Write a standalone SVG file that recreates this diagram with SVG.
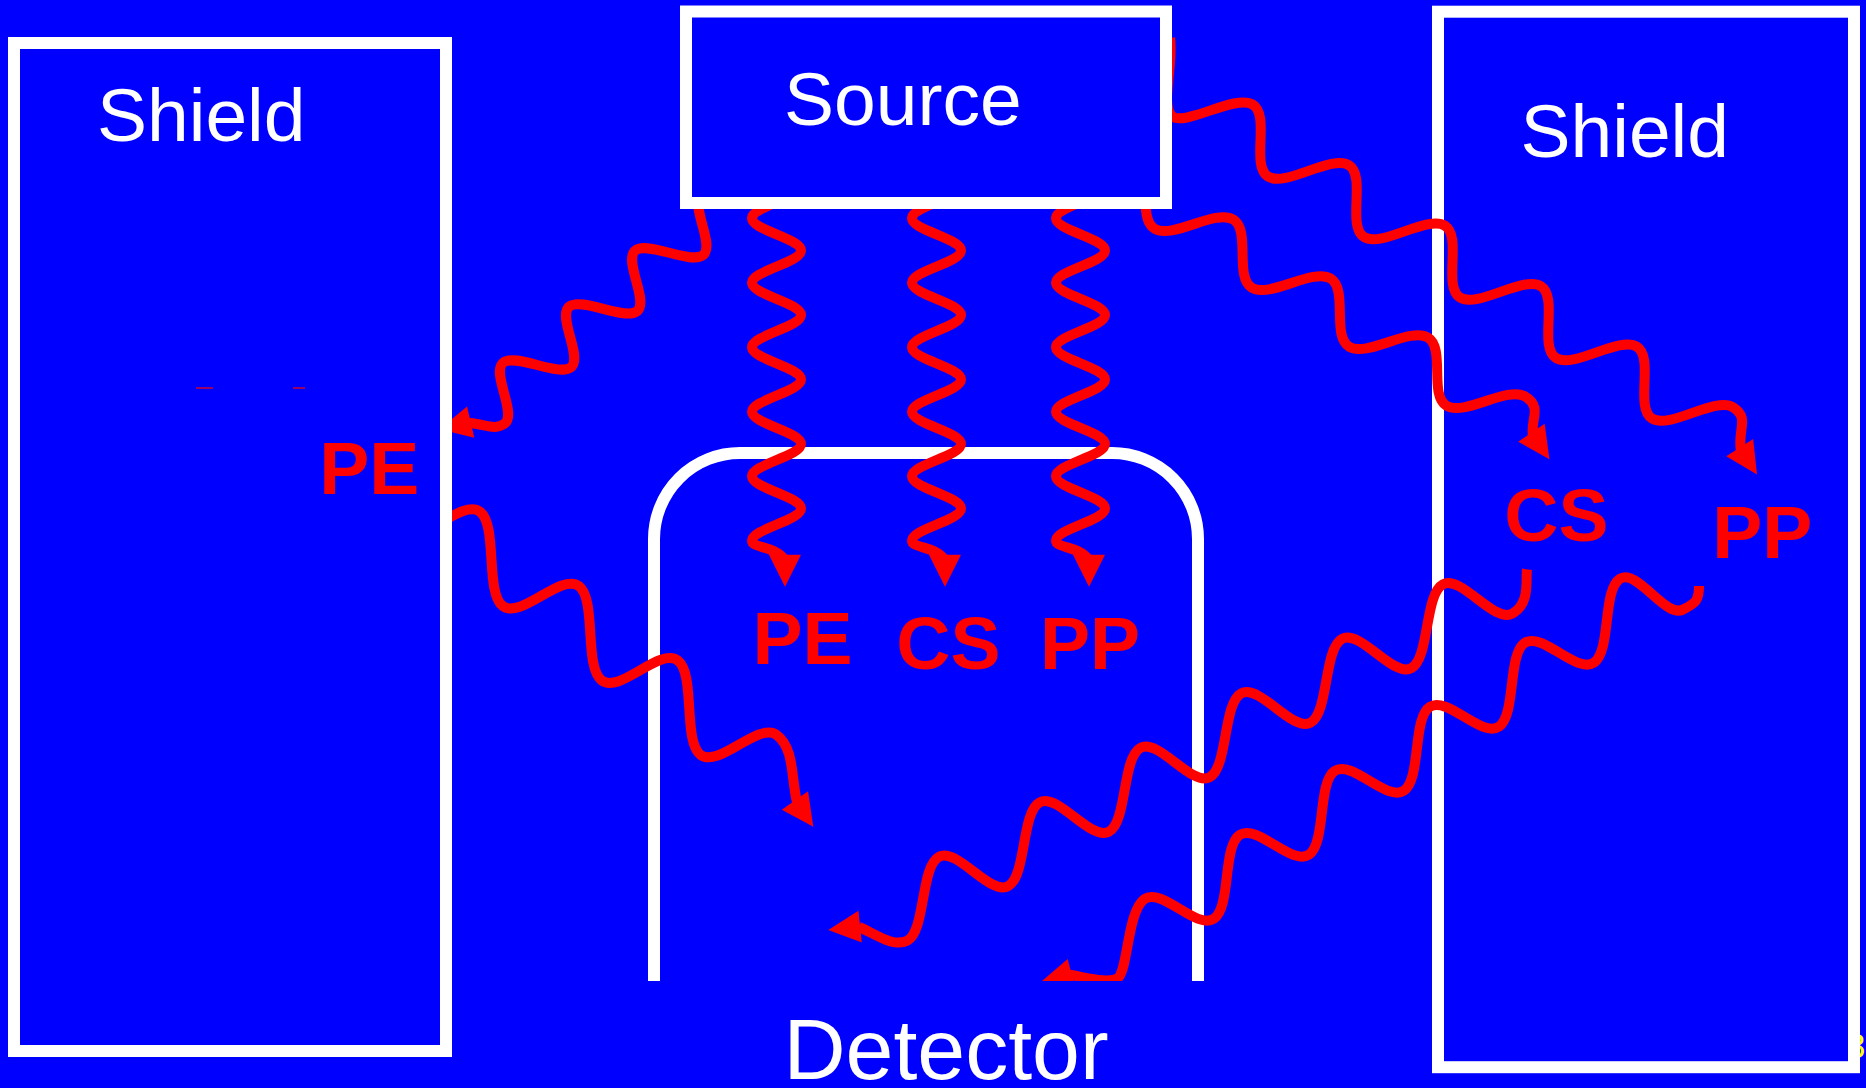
<svg xmlns="http://www.w3.org/2000/svg" xmlns:xlink="http://www.w3.org/1999/xlink" width="1866" height="1088" viewBox="0 0 1866 1088">
<defs>
<style>
.box{fill:#0000ff;stroke:#ffffff;stroke-width:12}
.wave{fill:none;stroke:#ff0000;stroke-width:10;stroke-linejoin:round}
.lbl{font-family:"Liberation Sans",Arial,sans-serif;fill:#ffffff;font-size:75px}
.red{font-family:"Liberation Sans",Arial,sans-serif;font-weight:bold;fill:#ff0000;font-size:75px}
</style>
<path id="ah" d="M0,0 L-32,-16 L-32,16 Z" fill="#ff0000"/>
<g id="vw">
<path fill="none" stroke="#ff0000" stroke-width="10" stroke-linejoin="round" d="M24.5,186 c0,11.72 -49,20.53 -49,32.25 s49,20.53 49,32.25 s-49,20.53 -49,32.25 s49,20.53 49,32.25 s-49,20.53 -49,32.25 s49,20.53 49,32.25 s-49,20.53 -49,32.25 s49,20.53 49,32.25 s-49,20.53 -49,32.25 s49,20.53 49,32.25 s-49,20.53 -49,32.25 C-24.5,548.5 1.5,546 8.5,561"/>
<use xlink:href="#ah" href="#ah" transform="translate(8.5,586.7) rotate(90)"/>
</g>
<clipPath id="detclip"><rect x="0" y="0" width="1866" height="981"/></clipPath>
</defs>
<rect x="0" y="0" width="1866" height="1088" fill="#0000ff"/>
<text x="1846" y="1058" font-family="Liberation Sans, Arial, sans-serif" font-size="35" fill="#ffff00">3</text>
<g id="shield-right">
<rect class="box" x="1438" y="11.7" width="416" height="1055.5"/>
<text class="lbl" x="1520.5" y="157">Shield</text>
</g>
<g id="detector">
<path d="M654,981 V539 A86,86 0 0 1 740,453 H1112 A86,86 0 0 1 1198,539 V981" fill="none" stroke="#ffffff" stroke-width="12"/>
<text class="lbl" x="783.5" y="1079" style="font-size:86px">Detector</text>
</g>
<g id="connectors">
<use xlink:href="#vw" href="#vw" x="776.5"/>
<use xlink:href="#vw" href="#vw" x="936.5"/>
<use xlink:href="#vw" href="#vw" x="1080.5"/>
<path class="wave" d="M1170,38 C1174,64 1160,105 1172,116.1 s63.56,-22.44 81,-11.45 s-2.44,60.96 15,71.95 s63.56,-22.44 81,-11.45 s-2.44,60.96 15,71.95 s63.56,-22.44 81,-11.45 s-2.44,60.96 15,71.95 s63.56,-22.44 81,-11.45 s-2.44,60.96 15,71.95 s63.56,-22.44 81,-11.45 s-2.44,60.96 15,71.95 s63.56,-22.44 81,-11.45 C1750.4,418.1 1737,430 1741,451"/>
<use xlink:href="#ah" href="#ah" transform="translate(1757,474.6) rotate(57.3)"/>
<path class="wave" d="M1136,160.5 c17.68,10.72 0.87,57.53 18.55,68.25 s61.07,-19.97 78.75,-9.25 s0.87,57.53 18.55,68.25 s61.07,-19.97 78.75,-9.25 s0.87,57.53 18.55,68.25 s61.07,-19.97 78.75,-9.25 s0.87,57.53 18.55,68.25 s61.07,-19.97 78.75,-9.25 C1542.9,407.2 1530,420 1533,435.5"/>
<use xlink:href="#ah" href="#ah" transform="translate(1549.4,459.2) rotate(55.8)"/>
<path class="wave" d="M701.35,194.45 c-12.01,10.19 13.96,50.36 1.95,60.55 s-56.04,-14.64 -68.05,-4.45 s13.96,50.36 1.95,60.55 s-56.04,-14.64 -68.05,-4.45 s13.96,50.36 1.95,60.55 s-56.04,-14.64 -68.05,-4.45 s13.96,50.36 1.95,60.55 C495,431.5 484,423.5 467,422.8"/>
<use xlink:href="#ah" href="#ah" transform="translate(439.5,429.3) rotate(166.9)"/>
<path class="wave" d="M403.95,531.7 c17.97,13.52 58.08,-33.52 76.05,-20 s4.88,80.88 22.85,94.4 s58.08,-33.52 76.05,-20 s4.88,80.88 22.85,94.4 s58.08,-33.52 76.05,-20 s4.88,80.88 22.85,94.4 s58.08,-33.52 76.05,-20 C794.67,748.42 791,778 797,802"/>
<use xlink:href="#ah" href="#ah" transform="translate(813.3,826.7) rotate(55)"/>
<path class="wave" d="M1527,569.3 C1525.5,580 1530.5,603.7 1512.2,613.6 s-51.04,-39.2 -69.35,-29.3 s-13.14,73.9 -31.45,83.8 s-51.04,-39.2 -69.35,-29.3 s-13.14,73.9 -31.45,83.8 s-51.04,-39.2 -69.35,-29.3 s-13.14,73.9 -31.45,83.8 s-51.04,-39.2 -69.35,-29.3 s-13.14,73.9 -31.45,83.8 s-51.04,-39.2 -69.35,-29.3 s-13.14,73.9 -31.45,83.8 s-51.04,-39.2 -69.35,-29.3 s-13.14,73.9 -31.45,83.8 C893,948 874,933 859,927"/>
<use xlink:href="#ah" href="#ah" transform="translate(828.3,930) rotate(173.9)"/>
<g clip-path="url(#detclip)">
<path class="wave" d="M1699,586 C1699,600 1696,603 1684,609 C1666.7,620.6 1637,567.3 1619.7,578.9 s-8.44,72.13 -25.7,83.76 s-52.04,-31.39 -69.3,-19.76 s-8.44,72.13 -25.7,83.76 s-52.04,-31.39 -69.3,-19.76 s-8.44,72.13 -25.7,83.76 s-52.04,-31.39 -69.3,-19.76 s-8.44,72.13 -25.7,83.76 s-52.04,-31.39 -69.3,-19.76 s-8.44,72.13 -25.7,83.76 s-52.04,-31.39 -69.3,-19.76 C1127.4,910.5 1128,970 1118,978 C1108,984 1085,977 1069,974.8"/>
<use xlink:href="#ah" href="#ah" transform="translate(1040.5,982.3) rotate(166)"/>
</g>
</g>
<g id="shield-left">
<rect class="box" x="14" y="43" width="432" height="1008"/>
<text class="lbl" x="97" y="141">Shield</text>
<rect x="196" y="387.4" width="17" height="1.2" fill="#ff0000"/>
<rect x="293" y="387.4" width="12" height="1.2" fill="#ff0000"/>
</g>
<g id="source">
<rect class="box" x="686" y="11.5" width="480" height="191.5"/>
<text class="lbl" x="784" y="125">Source</text>
</g>
<g id="labels">
<text class="red" x="319.3" y="493.5">PE</text>
<text class="red" x="752.6" y="664">PE</text>
<text class="red" x="896.3" y="669">CS</text>
<text class="red" x="1040" y="669.3">PP</text>
<text class="red" x="1504.3" y="540.5">CS</text>
<text class="red" x="1712.3" y="557.6">PP</text>
</g>
</svg>
